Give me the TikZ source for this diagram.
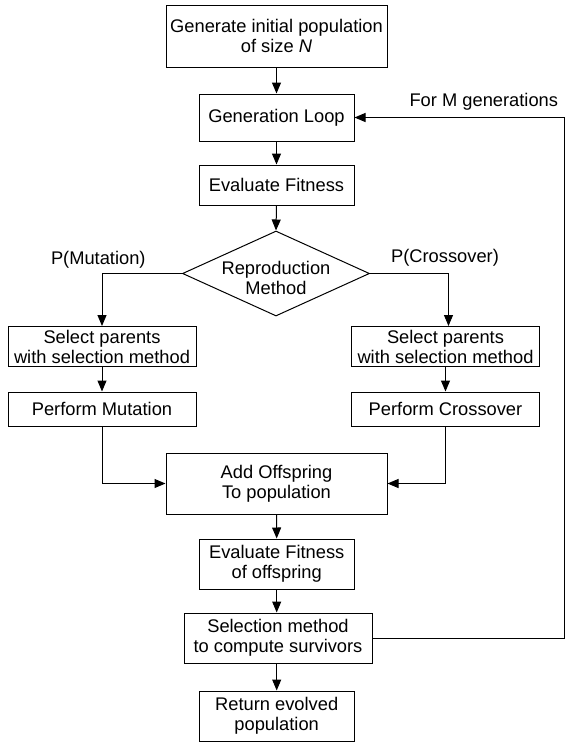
\documentclass[tikz,border=0pt]{standalone}
\usepackage{fontspec}
\setmainfont{Liberation Sans}
\usetikzlibrary{arrows.meta,shapes.geometric}
\begin{document}
\begin{tikzpicture}[x=1pt,y=-1pt,
  every node/.style={font=\fontsize{18.3}{20}\selectfont, text=black},
  box/.style={draw=black, line width=1pt, align=center, inner sep=0pt, rectangle},
  lbl/.style={inner sep=0pt, anchor=base},
  arr/.style={line width=1pt, -{Triangle[length=11pt,width=9pt]}},
  ln/.style={line width=1pt}]
\useasboundingbox (0,0) rectangle (575,748);
\node[box, minimum width=221pt, minimum height=62pt] (init) at (276.5,36) {Generate initial population\\of size \textit{N}};
\node[box, minimum width=155pt, minimum height=47pt] (loop) at (276.5,117.5) {Generation Loop};
\node[box, minimum width=155pt, minimum height=40pt] (eval) at (276.5,185) {Evaluate Fitness};
\node[draw=black, line width=1pt, diamond, minimum width=187pt, minimum height=85pt, inner sep=0pt] (d) at (276,273.5) {};
\node[align=center, inner sep=0pt] (dtext) at (276,278) {Reproduction\\Method};
\node[box, minimum width=188pt, minimum height=40pt] (selL) at (102,346.5) {Select parents\\with selection method};
\node[box, minimum width=188pt, minimum height=34pt] (mut) at (102,409) {Perform Mutation};
\node[box, minimum width=188pt, minimum height=40pt] (selR) at (445.5,346.5) {Select parents\\with selection method};
\node[box, minimum width=188pt, minimum height=34pt] (cross) at (445.5,409) {Perform Crossover};
\node[box, minimum width=221pt, minimum height=61pt] (add) at (276.5,483.5) {Add Offspring\\To population};
\node[box, minimum width=155pt, minimum height=50pt] (evoff) at (276.7,564) {Evaluate Fitness\\of offspring};
\node[box, minimum width=188pt, minimum height=50pt] (surv) at (278,638) {Selection method\\to compute survivors};
\node[box, minimum width=155pt, minimum height=50pt] (ret) at (276.7,716) {Return evolved\\population};
\node[lbl] (pm) at (98.3,264) {P(Mutation)};
\node[lbl] (pc) at (445,262.7) {P(Crossover)};
\node[lbl] (fm) at (483.8,106) {For M generations};
\coordinate (fb) at (564,400);
\draw[arr] (init.south) -- (loop.north);
\draw[arr] (loop.south) -- (eval.north);
\draw[arr] (eval.south) -- (d.north);
\draw[arr] (d.west) -| (selL.north);
\draw[arr] (d.east) -| ([xshift=3pt]selR.north);
\draw[arr] (selL.south) -- (mut.north);
\draw[arr] (selR.south) -- (cross.north);
\draw[arr] (mut.south) |- (add.west);
\draw[arr] (cross.south) |- (add.east);
\draw[arr] (add.south) -- (evoff.north);
\draw[arr] (evoff.south) -- (evoff.south |- surv.north);
\draw[arr] (ret.north |- surv.south) -- (ret.north);
\draw[arr] (surv.east) -- (surv.east -| fb) -- (fb |- loop.east) -- (loop.east);
\end{tikzpicture}
\end{document}
